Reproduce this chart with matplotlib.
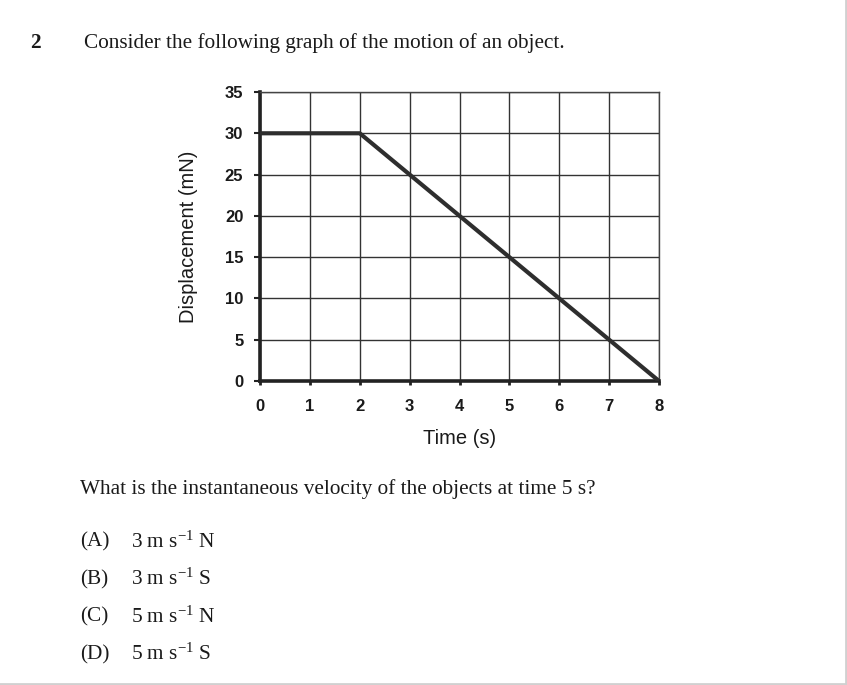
import numpy as np
import matplotlib
matplotlib.use('Agg')
from matplotlib import pyplot as plt
from matplotlib.lines import Line2D

plt.rcParams['mathtext.fontset'] = 'custom'
plt.rcParams['mathtext.rm'] = 'Liberation Serif'
plt.rcParams['mathtext.it'] = 'Liberation Serif:italic'

# ~~~~~~~~~~~~~~~~~~~~~~ data ~~~~~~~~~~~~~~~~~~~~~
time_s = [0, 2, 8]
displacement = [30, 30, 0]
x_ticks = [0, 1, 2, 3, 4, 5, 6, 7, 8]
y_ticks = [0, 5, 10, 15, 20, 25, 30, 35]

question_no = '2'
intro = 'Consider the following graph of the motion of an object.'
question = 'What is the instantaneous velocity of the objects at time 5 s?'
option_tags = ['(A)', '(B)', '(C)', '(D)']
option_text = ['3 m s$^{-1}$ N', '3 m s$^{-1}$ S', '5 m s$^{-1}$ N', '5 m s$^{-1}$ S']

W, H = 847, 685
fig = plt.figure(figsize=(W / 100, H / 100), dpi=100)

ax = fig.add_axes([260 / W, 1 - 381 / H, 399 / W, 289 / H])
ax.plot(time_s, displacement, color='#2e2e2e', lw=3, solid_capstyle='round', zorder=3)
ax.set_xlim(0, 8)
ax.set_ylim(0, 35)
ax.set_xticks(x_ticks)
ax.set_yticks(y_ticks)
ax.grid(True, color='#333333', lw=1.0)
ax.set_axisbelow(True)
for s in ['top', 'right']:
    ax.spines[s].set_color('#444444')
    ax.spines[s].set_linewidth(1.0)
for s in ['left', 'bottom']:
    ax.spines[s].set_color('#222222')
    ax.spines[s].set_linewidth(2.6)
ax.tick_params(axis='y', length=4, width=1.5, pad=8, color='#222222')
ax.tick_params(axis='x', length=3, width=2, pad=10, color='#222222')
for lab in ax.get_xticklabels() + ax.get_yticklabels():
    lab.set_fontfamily('Liberation Sans')
    lab.set_fontweight('bold')
    lab.set_fontsize(12)
    lab.set_color('#1a1a1a')
ax.set_xlabel('Time (s)', fontfamily='Liberation Sans', fontsize=14.5, labelpad=11, color='#1a1a1a')
ax.set_ylabel('Displacement (mN)', fontfamily='Liberation Sans', fontsize=14.5, labelpad=19, color='#1a1a1a')

serif = 'Liberation Serif'
fs = 15.3
fig.text(30 / W, 1 - 43 / H, question_no, fontfamily=serif, fontweight='bold', fontsize=fs, va='center', color='#1a1a1a')
fig.text(84 / W, 1 - 43 / H, intro, fontfamily=serif, fontsize=fs, va='center', color='#1a1a1a')
fig.text(80 / W, 1 - 489 / H, question, fontfamily=serif, fontsize=fs, va='center', color='#1a1a1a')
for i, (tag, txt) in enumerate(zip(option_tags, option_text)):
    y = 1 - (542 + 37.5 * i) / H
    fig.text(80 / W, y, tag, fontfamily=serif, fontsize=fs, va='center', color='#1a1a1a')
    fig.text(131 / W, y, txt, fontfamily=serif, fontsize=fs, va='center', color='#1a1a1a')

# light scan border at right and bottom
fig.add_artist(Line2D([845.5 / W, 845.5 / W], [1 / H, 1], color='#d0d0d0', lw=2))
fig.add_artist(Line2D([0, 846 / W], [1.5 / H, 1.5 / H], color='#d0d0d0', lw=2))

plt.savefig('out.png', dpi=100)
